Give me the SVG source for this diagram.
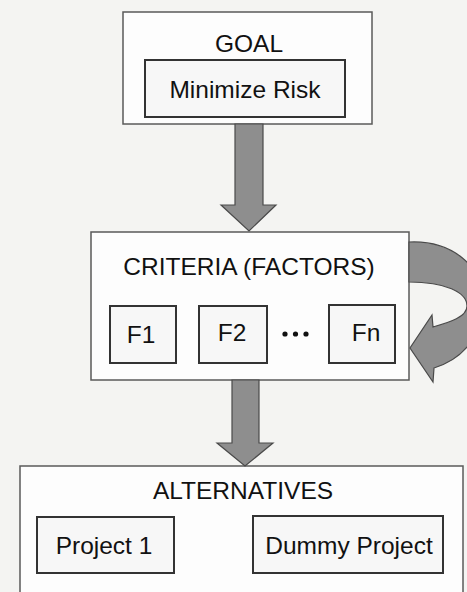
<svg xmlns="http://www.w3.org/2000/svg" width="467" height="592" viewBox="0 0 467 592">
  <style>
    .bg { fill: #f4f4f2; }
    .outer { fill: #fdfdfd; stroke: #5a5a5a; stroke-width: 1.5; }
    .inner { fill: #f7f7f7; stroke: #333; stroke-width: 2; }
    .lbl { font-family: "Liberation Sans", Arial, sans-serif; font-size: 24.5px; fill: #111; text-anchor: middle; }
    .arrow { fill: #8e8e8e; stroke: #4a4a4a; stroke-width: 1.2; stroke-linejoin: miter; }
  </style>
  <rect class="bg" x="0" y="0" width="467" height="592"/>

  <g id="goal">
    <rect class="outer" x="123" y="12" width="249" height="112"/>
    <text class="lbl" x="249" y="52">GOAL</text>
    <g id="minimize-risk">
      <rect class="inner" x="145" y="60" width="200" height="57"/>
      <text class="lbl" x="245" y="98">Minimize Risk</text>
    </g>
  </g>

  <g id="criteria">
    <rect class="outer" x="91" y="232" width="318" height="148"/>
    <text class="lbl" x="249" y="275">CRITERIA (FACTORS)</text>
    <g id="f1">
      <rect class="inner" x="110" y="306" width="66" height="57"/>
      <text class="lbl" x="141" y="343">F1</text>
    </g>
    <g id="f2">
      <rect class="inner" x="199" y="306" width="68" height="57"/>
      <text class="lbl" x="232" y="341">F2</text>
    </g>
    <g id="dots" fill="#111">
      <circle cx="285" cy="334" r="2.6"/>
      <circle cx="295.5" cy="334" r="2.6"/>
      <circle cx="306" cy="334" r="2.6"/>
    </g>
    <g id="fn">
      <rect class="inner" x="329" y="305" width="66" height="58"/>
      <text class="lbl" x="366" y="341">Fn</text>
    </g>
  </g>

  <g id="alternatives">
    <rect class="outer" x="20" y="466" width="443" height="140"/>
    <text class="lbl" x="243" y="499">ALTERNATIVES</text>
    <g id="project-1">
      <rect class="inner" x="37" y="517" width="137" height="56"/>
      <text class="lbl" x="104" y="554">Project 1</text>
    </g>
    <g id="dummy-project">
      <rect class="inner" x="253" y="516" width="190" height="57"/>
      <text class="lbl" x="349" y="554">Dummy Project</text>
    </g>
  </g>

  <g id="connectors">
    <path class="arrow" d="M235 124 L263 124 L263 205 L276 205 L249 231 L221 205 L235 205 Z"/>
    <path class="arrow" d="M232 380 L259 380 L259 443 L273 443 L245 466 L217 443 L232 443 Z"/>
    <path class="arrow" d="M409 242 C450 240 485 265 483 305 C481 340 460 360 434 368 L433 382 L410 348 L432 315 L433 327 C450 322 467 317 467 306 C467 292 445 282 409 282 Z"/>
  </g>
</svg>
